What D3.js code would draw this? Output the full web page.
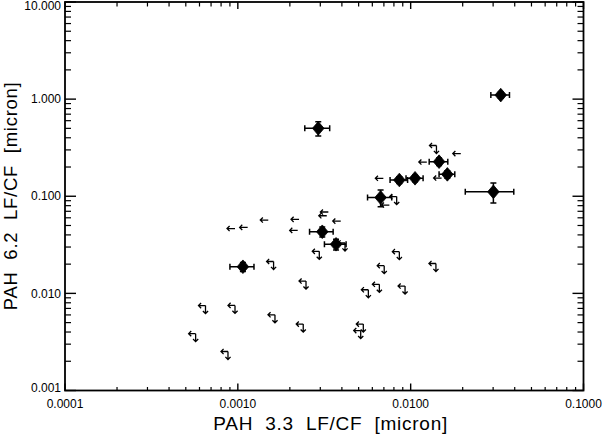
<!DOCTYPE html>
<html>
<head>
<meta charset="utf-8">
<script src="https://cdn.jsdelivr.net/npm/d3@7"></script>
<style>
  html, body { margin: 0; padding: 0; background: #fff; }
  svg { display: block; }
  text { font-family: "Liberation Sans", Arial, Helvetica, sans-serif; fill: #000; }
</style>
</head>
<body>
<svg id="chart" width="604" height="434"></svg>
<script>
// ---- data ----
const xTickValues = [0.0001, 0.001, 0.01, 0.1];
const xTickLabels = ["0.0001", "0.0010", "0.0100", "0.1000"];
const yTickValues = [0.001, 0.01, 0.1, 1, 10];
const yTickLabels = ["0.001", "0.010", "0.100", "1.000", "10.000"];

const xTitle = "PAH  3.3  LF/CF  [micron]";
const yTitle = "PAH  6.2  LF/CF  [micron]";

// detections (diamonds with error bars)
const detX    = [0.0332, 0.00292, 0.0146, 0.0163, 0.0106, 0.0086, 0.0067, 0.0301, 0.00308, 0.0037, 0.00107];
const detY    = [1.10,   0.50,    0.227,  0.168,  0.153,  0.147,  0.097,  0.111,  0.0431,  0.0320, 0.0188];
const detXErr = [0.0041, 0.00048, 0.0018, 0.0017, 0.0012, 0.0010, 0.00107,0.0094, 0.00048, 0.00053,0.00017];
const detYErr = [0.08,   0.084,   0.02,   0.015,  0.012,  0.012,  0.019,  0.026,  0.005,   0.004,  0.002];

// upper limits on x only (left arrows)
const xLimX = [0.000963, 0.00114, 0.0015, 0.00226, 0.00222, 0.00334, 0.00327, 0.00394, 0.00695, 0.0124, 0.0195, 0.0151, 0.00753];
const xLimY = [0.0465,   0.0478,  0.0569, 0.0578,  0.0445,  0.0688,  0.0630,  0.0555,  0.153,   0.225,  0.275,  0.154,  0.0812];

// upper limits on both x and y (left + down arrows)
const bothLimX = [0.0141, 0.0083, 0.00417, 0.00296, 0.00161, 0.00248, 0.0086, 0.00703, 0.0140, 0.00659, 0.00569, 0.00928, 0.00065, 0.000963, 0.00164, 0.00239, 0.00532, 0.00514, 0.00057, 0.000877];
const bothLimY = [0.333,  0.0993, 0.033,   0.0271,  0.0213,  0.0134,  0.0269, 0.0193,  0.0203, 0.0124,  0.0109,  0.0119,  0.00749, 0.00752,  0.00602, 0.00483, 0.00483, 0.00414, 0.00385, 0.00252];

// ---- layout ----
const W = 604, H = 434;
const plot = { left: 65, right: 583.5, top: 2, bottom: 390.5 };

const svg = d3.select("#chart");
svg.append("rect").attr("width", W).attr("height", H).attr("fill", "#fff");

const x = d3.scaleLog().domain([1e-4, 0.1]).range([plot.left, plot.right]);
const y = d3.scaleLog().domain([1e-3, 10]).range([plot.bottom, plot.top]);

function minorTicks(domain) {
  const out = [];
  const lo = Math.round(Math.log10(domain[0])), hi = Math.round(Math.log10(domain[1]));
  for (let e = lo; e < hi; e++) for (let m = 2; m <= 9; m++) out.push(m * Math.pow(10, e));
  return out;
}

const axes = svg.append("g").attr("stroke", "#000").attr("fill", "none");

// x ticks (bottom + top)
const xMajorLen = 7, xMinorLen = 3.5;
minorTicks(x.domain()).forEach(v => {
  const px = x(v);
  axes.append("line").attr("x1", px).attr("x2", px).attr("y1", plot.bottom).attr("y2", plot.bottom - xMinorLen).attr("stroke-width", 1.2);
  axes.append("line").attr("x1", px).attr("x2", px).attr("y1", plot.top).attr("y2", plot.top + xMinorLen + 1).attr("stroke-width", 1.2);
});
xTickValues.forEach(v => {
  const px = x(v);
  axes.append("line").attr("x1", px).attr("x2", px).attr("y1", plot.bottom).attr("y2", plot.bottom - xMajorLen).attr("stroke-width", 1.4);
  axes.append("line").attr("x1", px).attr("x2", px).attr("y1", plot.top).attr("y2", plot.top + xMajorLen).attr("stroke-width", 1.4);
});

// y ticks (left + right)
const yMajorLen = 11, yMinorLen = 6;
minorTicks(y.domain()).forEach(v => {
  const py = y(v);
  axes.append("line").attr("x1", plot.left).attr("x2", plot.left + yMinorLen).attr("y1", py).attr("y2", py).attr("stroke-width", 1.2);
  axes.append("line").attr("x1", plot.right).attr("x2", plot.right - yMinorLen).attr("y1", py).attr("y2", py).attr("stroke-width", 1.2);
});
yTickValues.forEach(v => {
  const py = y(v);
  axes.append("line").attr("x1", plot.left).attr("x2", plot.left + yMajorLen).attr("y1", py).attr("y2", py).attr("stroke-width", 1.4);
  axes.append("line").attr("x1", plot.right).attr("x2", plot.right - yMajorLen).attr("y1", py).attr("y2", py).attr("stroke-width", 1.4);
});

// frame
axes.append("rect")
  .attr("x", plot.left).attr("y", plot.top)
  .attr("width", plot.right - plot.left).attr("height", plot.bottom - plot.top)
  .attr("stroke-width", 1.8);

// tick labels
const lab = svg.append("g").attr("font-size", 12);
xTickValues.forEach((v, i) => {
  lab.append("text").attr("x", x(v)).attr("y", plot.bottom + 17)
    .attr("text-anchor", "middle").text(xTickLabels[i]);
});
yTickValues.forEach((v, i) => {
  const cy = Math.min(Math.max(y(v), plot.top + 4), plot.bottom - 3);
  lab.append("text").attr("x", plot.left - 4).attr("y", cy).attr("dy", "0.35em")
    .attr("text-anchor", "end").text(yTickLabels[i]);
});

// axis titles
svg.append("text")
  .attr("x", (plot.left + plot.right) / 2 + 6).attr("y", 429.5)
  .attr("text-anchor", "middle").attr("font-size", 19)
  .attr("textLength", 234).attr("lengthAdjust", "spacing")
  .attr("style", "white-space: pre").text(xTitle);
svg.append("text")
  .attr("transform", `translate(16.5,${(plot.top + plot.bottom) / 2}) rotate(-90)`)
  .attr("text-anchor", "middle").attr("font-size", 18.5)
  .attr("textLength", 228).attr("lengthAdjust", "spacing")
  .attr("style", "white-space: pre").text(yTitle);

// ---- marks ----
const marks = svg.append("g");

// left arrows (x upper limits)
const aLen = 8, head = 2.6;
xLimX.forEach((xv, i) => {
  const cx = x(xv), cy = y(xLimY[i]);
  marks.append("path")
    .attr("d", `M${cx},${cy}H${cx - aLen}M${cx - aLen + head},${cy - head}L${cx - aLen},${cy}L${cx - aLen + head},${cy + head}`)
    .attr("fill", "none").attr("stroke", "#000").attr("stroke-width", 1.3);
});

// both limits: left arrow + down arrow from the point
const hLen = 7, vLen = 8;
bothLimX.forEach((xv, i) => {
  const cx = x(xv), cy = y(bothLimY[i]);
  marks.append("path")
    .attr("d",
      `M${cx},${cy}H${cx - hLen}M${cx - hLen + head},${cy - head}L${cx - hLen},${cy}L${cx - hLen + head},${cy + head}` +
      `M${cx},${cy}V${cy + vLen}M${cx - head},${cy + vLen - head}L${cx},${cy + vLen}L${cx + head},${cy + vLen - head}`)
    .attr("fill", "none").attr("stroke", "#000").attr("stroke-width", 1.3);
});

// detections: error bars + diamonds
const cap = 3;
detX.forEach((xv, i) => {
  const yv = detY[i];
  const cx = x(xv), cy = y(yv);
  const x0 = x(xv - detXErr[i]), x1 = x(xv + detXErr[i]);
  const y0 = y(yv + detYErr[i]), y1 = y(yv - detYErr[i]);
  const g = marks.append("g").attr("stroke", "#000").attr("stroke-width", 1.5).attr("fill", "none");
  g.append("path").attr("d",
    `M${x0},${cy}H${x1}M${x0},${cy - cap}V${cy + cap}M${x1},${cy - cap}V${cy + cap}` +
    `M${cx},${y0}V${y1}M${cx - cap},${y0}H${cx + cap}M${cx - cap},${y1}H${cx + cap}`);
  marks.append("path")
    .attr("d", `M${cx},${cy - 6.8}L${cx + 5.8},${cy}L${cx},${cy + 6.8}L${cx - 5.8},${cy}Z`)
    .attr("fill", "#000").attr("stroke", "#000").attr("stroke-width", 0.8);
});
</script>
</body>
</html>
